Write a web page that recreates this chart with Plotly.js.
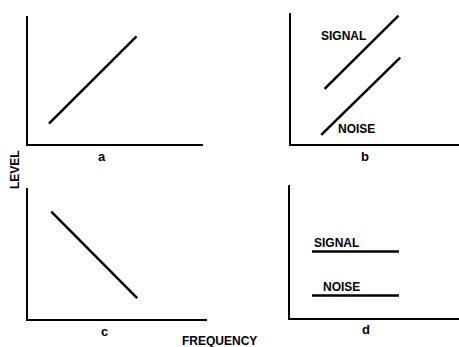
<!DOCTYPE html>
<html><head><meta charset="utf-8">
<script src="https://cdn.plot.ly/plotly-3.0.1.min.js"></script>
<style>html,body{margin:0;padding:0;background:#fff}#p{width:459px;height:347px}</style>
</head><body><div id="p"></div>
<script>
// Panel a: level rising with frequency
const aX = [12, 62];
const aY = [16, 84];
// Panel b: signal and noise both rising
const bSignalX = [20, 64];
const bSignalY = [42, 98];
const bNoiseX = [18, 65];
const bNoiseY = [7, 66];
// Panel c: level falling with frequency
const cX = [13, 61];
const cY = [82, 16];
// Panel d: flat signal and noise
const dSignalX = [13, 64.5];
const dSignalY = [50, 50];
const dNoiseX = [13, 64.5];
const dNoiseY = [17, 17];
const panelLabels = ['a', 'b', 'c', 'd'];

const FONT = 'Liberation Sans, Arial, Helvetica, sans-serif';
const lineStyle = {color: '#000', width: 2.5};
function tr(x, y, xa, ya) {
  return {x: x, y: y, xaxis: xa, yaxis: ya, mode: 'lines', line: lineStyle, hoverinfo: 'skip', showlegend: false};
}
const data = [
  tr(aX, aY, 'x', 'y'),
  tr(bSignalX, bSignalY, 'x2', 'y2'),
  tr(bNoiseX, bNoiseY, 'x2', 'y2'),
  tr(cX, cY, 'x3', 'y3'),
  tr(dSignalX, dSignalY, 'x4', 'y4'),
  tr(dNoiseX, dNoiseY, 'x4', 'y4')
];
function ax(domain, anchor) {
  return {domain: domain, anchor: anchor, range: [0, 100], showline: true, linewidth: 2, linecolor: '#000',
    showgrid: false, zeroline: false, showticklabels: false, ticks: '', fixedrange: true};
}
const W = 459, H = 347;
const px = (a, b) => [a / W, b / W];
const py = (top, bot) => [1 - bot / H, 1 - top / H];
const txt = (text, x, y, xref, yref, extra) => Object.assign({text: '<b>' + text + '</b>', x: x, y: y, xref: xref, yref: yref,
  showarrow: false, font: {family: FONT, size: 12, color: '#000'}, xanchor: 'center', yanchor: 'middle'}, extra || {});
const letterFont = {font: {family: FONT, size: 13, color: '#000'}};

const layout = {
  width: W, height: H, margin: {l: 0, r: 0, t: 0, b: 0},
  paper_bgcolor: '#fff', plot_bgcolor: '#fff', showlegend: false,
  xaxis: ax(px(28, 203), 'y'), yaxis: ax(py(16, 144), 'x'),
  xaxis2: ax(px(291, 459), 'y2'), yaxis2: ax(py(13, 144), 'x2'),
  xaxis3: ax(px(28, 207), 'y3'), yaxis3: ax(py(188, 319), 'x3'),
  xaxis4: ax(px(290, 459), 'y4'), yaxis4: ax(py(185, 318), 'x4'),
  annotations: [
    txt(panelLabels[0], 102 / W, 1 - 157 / H, 'paper', 'paper', letterFont),
    txt(panelLabels[1], 365 / W, 1 - 157 / H, 'paper', 'paper', letterFont),
    txt(panelLabels[2], 104 / W, 1 - 331 / H, 'paper', 'paper', letterFont),
    txt(panelLabels[3], 366 / W, 1 - 329 / H, 'paper', 'paper', letterFont),
    txt('SIGNAL', 31.5, 82.4, 'x2', 'y2'),
    txt('NOISE', 38.7, 11.5, 'x2', 'y2'),
    txt('SIGNAL', 27.8, 56.4, 'x4', 'y4'),
    txt('NOISE', 30.2, 23.3, 'x4', 'y4'),
    txt('LEVEL', 15 / W, 1 - 170 / H, 'paper', 'paper', {textangle: -90}),
    txt('FREQUENCY', 219 / W, 1 - 341 / H, 'paper', 'paper')
  ]
};
Plotly.newPlot('p', data, layout, {staticPlot: true, displayModeBar: false});
</script></body></html>
